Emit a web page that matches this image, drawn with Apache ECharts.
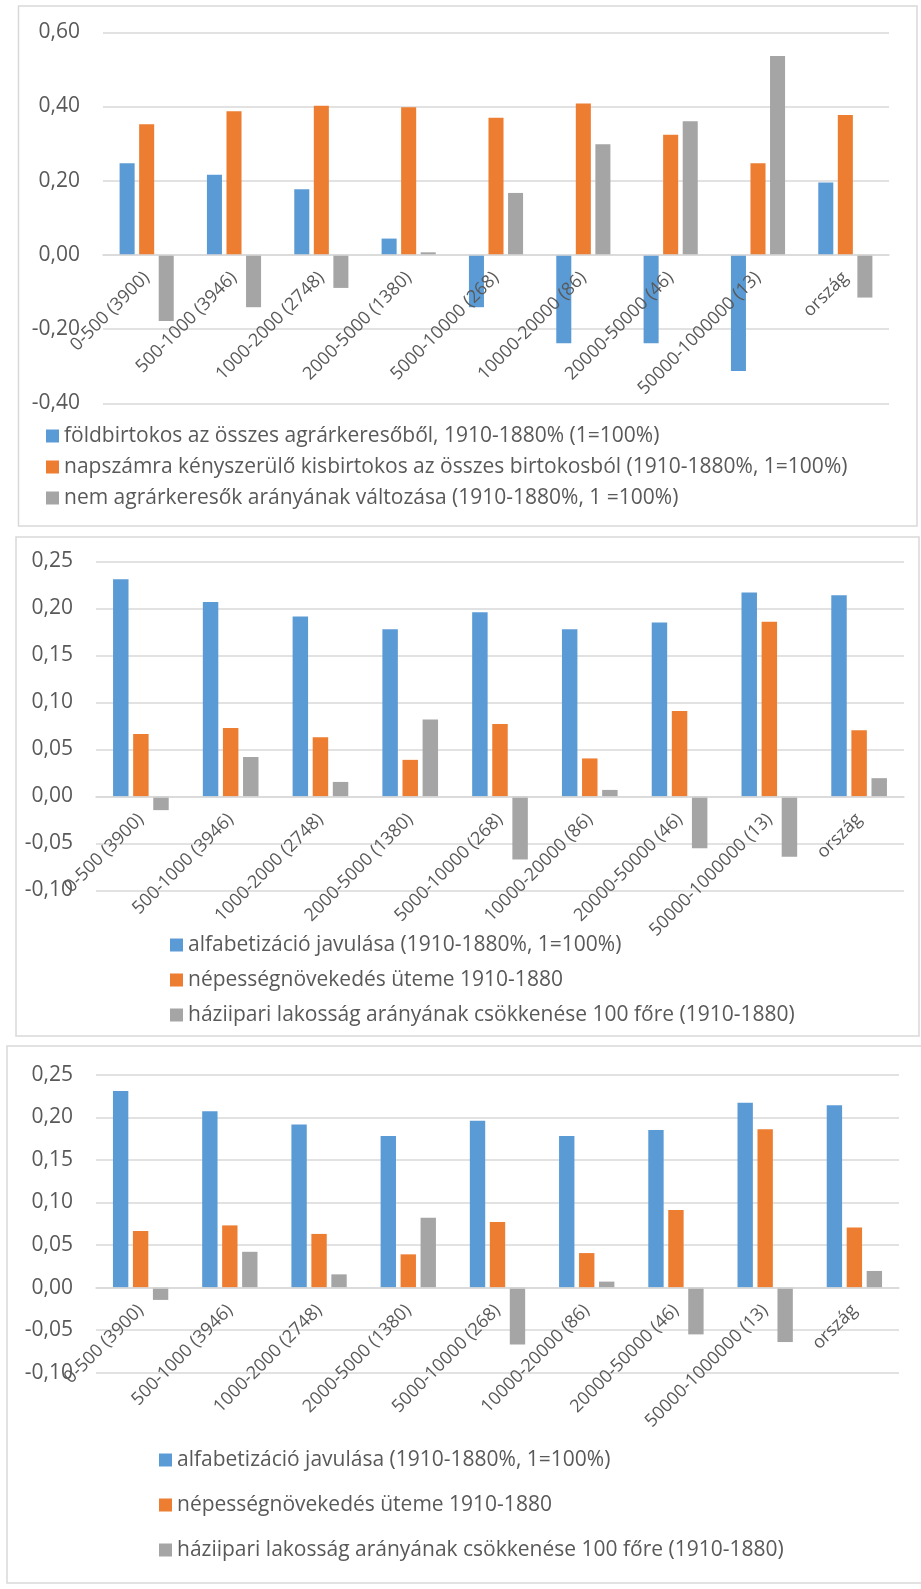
<!DOCTYPE html>
<html>
<head>
<meta charset="utf-8">
<script src="https://cdn.jsdelivr.net/npm/echarts@6/dist/echarts.min.js"></script>
<style>
  html, body { margin: 0; padding: 0; background: #ffffff; }
  #main { width: 921px; height: 1589px; }
</style>
</head>
<body>
<div id="main"></div>
<script>
// Settlement-size categories (number of settlements in parentheses)
const categories = [
  '0-500 (3900)', '500-1000 (3946)', '1000-2000 (2748)', '2000-5000 (1380)',
  '5000-10000 (268)', '10000-20000 (86)', '20000-50000 (46)', '50000-1000000 (13)', 'ország'
];

// Panel 1 series
const name1a = 'földbirtokos az összes agrárkeresőből, 1910-1880% (1=100%)';
const name1b = 'napszámra kényszerülő kisbirtokos az összes birtokosból (1910-1880%, 1=100%)';
const name1c = 'nem agrárkeresők arányának változása (1910-1880%, 1 =100%)';
const foldbirtokos = [0.247, 0.216, 0.177, 0.044, -0.141, -0.238, -0.238, -0.313, 0.195];
const napszamos    = [0.352, 0.387, 0.402, 0.398, 0.370, 0.408, 0.324, 0.247, 0.377];
const nemAgrar     = [-0.178, -0.141, -0.089, 0.007, 0.167, 0.298, 0.360, 0.536, -0.115];

// Panels 2 and 3 series (same data drawn twice)
const name2a = 'alfabetizáció javulása (1910-1880%, 1=100%)';
const name2b = 'népességnövekedés üteme 1910-1880';
const name2c = 'háziipari lakosság arányának csökkenése 100 főre (1910-1880)';
const alfabetizacio = [0.231, 0.207, 0.1915, 0.178, 0.196, 0.178, 0.185, 0.217, 0.214];
const nepesseg      = [0.0665, 0.073, 0.063, 0.039, 0.077, 0.0405, 0.091, 0.186, 0.0705];
const haziipar      = [-0.0145, 0.042, 0.0155, 0.082, -0.067, 0.007, -0.055, -0.064, 0.0195];

// Axis ranges and tick steps
const yTicks1 = { min: -0.4, max: 0.6, interval: 0.2 };
const yTicks2 = { min: -0.1, max: 0.25, interval: 0.05 };

const BLUE = '#5b9bd5', ORANGE = '#ed7d31', GRAY = '#a5a5a5';
const TEXT = '#595959';
const LINE = '#d9d9d9';
const FONT = '"Open Sans", "Liberation Sans", sans-serif';

// Plot areas: left, right, top, height
const grids = [
  { left: 103, right: 32, top: 32.3, height: 371, ticks: yTicks1 },
  { left: 96, right: 17, top: 561.5, height: 329, ticks: yTicks2 },
  { left: 96, right: 22, top: 1074.7, height: 298, ticks: yTicks2 }
];

const fmt = v => (Math.abs(v) < 1e-9 ? 0 : v).toFixed(2).replace('.', ',');

// The category axis sits on the zero line, with its labels hanging below it
function xAxisFor(gridIndex) {
  const g = grids[gridIndex];
  const zeroFromBottom = (0 - g.ticks.min) / (g.ticks.max - g.ticks.min) * g.height;
  return {
    type: 'category', gridIndex, data: categories, z: 5,
    position: 'bottom', offset: -zeroFromBottom,
    axisTick: { show: false },
    axisLine: { onZero: false, lineStyle: { color: LINE, width: 1.5 } },
    axisLabel: { interval: 0, rotate: 45, margin: 20, color: TEXT, fontSize: 18, fontFamily: FONT }
  };
}
function yAxisFor(gridIndex) {
  const t = grids[gridIndex].ticks;
  return {
    type: 'value', gridIndex, min: t.min, max: t.max, interval: t.interval,
    axisLine: { show: false }, axisTick: { show: false },
    splitLine: { lineStyle: { color: LINE, width: 1.5 } },
    axisLabel: { margin: 23, color: TEXT, fontSize: 21, fontFamily: FONT, formatter: fmt }
  };
}
function barSeries(name, data, color, idx) {
  return {
    type: 'bar', name, data, xAxisIndex: idx, yAxisIndex: idx,
    barCategoryGap: '38%', barGap: '30%',
    itemStyle: { color }, silent: true
  };
}
function legendRow(name, left, centerY) {
  return {
    data: [name], left, top: centerY - 10.5, padding: 0,
    itemWidth: 13, itemHeight: 13, icon: 'rect', selectedMode: false,
    textStyle: { color: TEXT, fontSize: 21, lineHeight: 21, fontFamily: FONT }
  };
}
function frame(x, y, w, h) {
  return { type: 'rect', silent: true, shape: { x, y, width: w, height: h },
           style: { fill: 'none', stroke: LINE, lineWidth: 1.5 } };
}

const chart = echarts.init(document.getElementById('main'), null, { renderer: 'canvas' });
chart.setOption({
  animation: false,
  backgroundColor: '#ffffff',
  grid: grids.map(g => ({ left: g.left, right: g.right, top: g.top, height: g.height, outerBoundsMode: 'none' })),
  xAxis: [xAxisFor(0), xAxisFor(1), xAxisFor(2)],
  yAxis: [yAxisFor(0), yAxisFor(1), yAxisFor(2)],
  legend: [
    legendRow(name1a, 46, 436), legendRow(name1b, 46, 467), legendRow(name1c, 46, 498),
    legendRow(name2a, 170, 945), legendRow(name2b, 170, 980), legendRow(name2c, 170, 1015),
    legendRow(name2a, 159, 1460), legendRow(name2b, 159, 1505), legendRow(name2c, 159, 1550)
  ],
  series: [
    barSeries(name1a, foldbirtokos, BLUE, 0),
    barSeries(name1b, napszamos, ORANGE, 0),
    barSeries(name1c, nemAgrar, GRAY, 0),
    barSeries(name2a, alfabetizacio, BLUE, 1),
    barSeries(name2b, nepesseg, ORANGE, 1),
    barSeries(name2c, haziipar, GRAY, 1),
    barSeries(name2a, alfabetizacio, BLUE, 2),
    barSeries(name2b, nepesseg, ORANGE, 2),
    barSeries(name2c, haziipar, GRAY, 2)
  ],
  graphic: [
    frame(18.5, 6, 898.5, 520),
    frame(16, 537, 903, 499),
    frame(7, 1046, 930, 537)
  ]
});
</script>
</body>
</html>
